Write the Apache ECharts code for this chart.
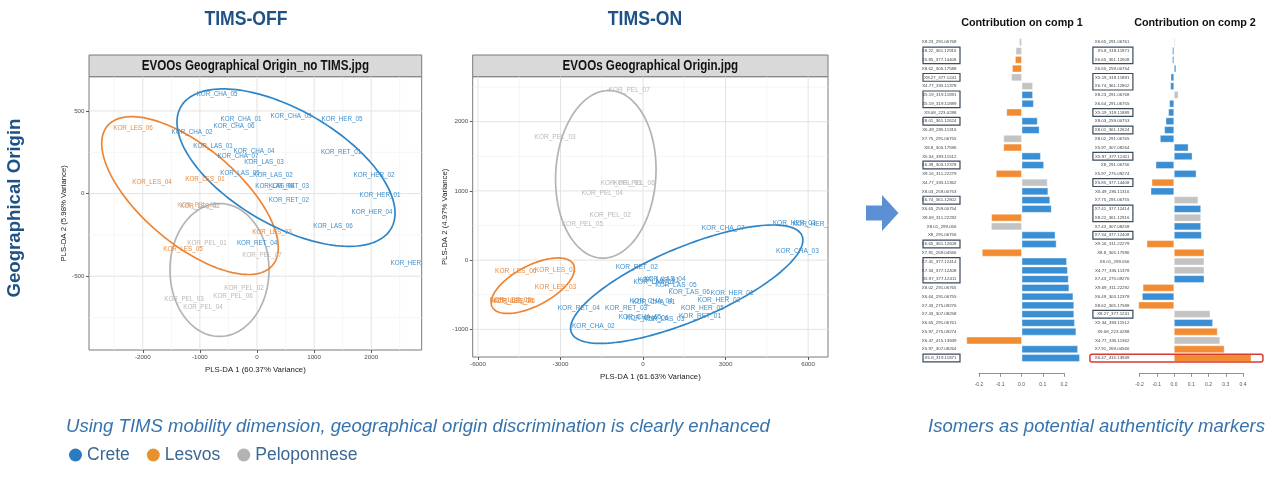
<!DOCTYPE html>
<html><head><meta charset="utf-8">
<script src="https://cdn.jsdelivr.net/npm/echarts@6/dist/echarts.min.js"></script>
<style>html,body{margin:0;padding:0;background:#fff}#c{width:1271px;height:488px}</style>
</head><body><div id="c"></div>
<script>
// ---------- data ----------
const groupNames = ['Crete', 'Lesvos', 'Peloponnese'];

// TIMS-OFF panel
const offCreteNames = ['KOR_CHA_05','KOR_CHA_01','KOR_CHA_06','KOR_CHA_03','KOR_HER_05','KOR_CHA_02','KOR_LAS_01','KOR_CHA_04','KOR_CHA_07','KOR_LAS_03','KOR_RET_01','KOR_LAS_05','KOR_LAS_02','KOR_HER_02','KOR_LAS_04','KOR_RET_03','KOR_HER_01','KOR_RET_02','KOR_HER_04','KOR_LAS_06','KOR_RET_04','KOR_HER_03'];
const offCreteX = [-700,-280,-403,595,1489,-1138,-770,-53,-333,123,1471,-298,280,2049,315,560,2154,560,2014,1331,0,2697];
const offCreteY = [602,451,409,470,451,373,289,259,223,187,247,120,108,108,42,42,-12,-42,-114,-199,-301,-421];
const offLesvosNames = ['KOR_LES_06','KOR_LES_04','KOR_LES_01','KOR_LES_02','KOR_LES_03','KOR_LES_05'];
const offLesvosX = [-2172,-1839,-911,-998,263,-1296];
const offLesvosY = [397,66,84,-76,-235,-337];
const offPelNames = ['KOR_PEL_05','KOR_PEL_01','KOR_PEL_07','KOR_PEL_02','KOR_PEL_06','KOR_PEL_03','KOR_PEL_04'];
const offPelX = [-1050,-876,88,-228,-420,-1278,-946];
const offPelY = [-70,-301,-373,-572,-620,-638,-686];
// ellipses: centre x, centre y, semi-axis A (dx, dy), semi-axis B (dx, dy)
const offCreteEllipse = [508, 157, 1840, -369, -510, -301];
const offLesvosEllipse = [-1173, -12, 1445, -422, -550, -223];
const offPelEllipse = [-657, -462, 0, 402, 867, 0];
const offXTicks = [-2000, -1000, 0, 1000, 2000];
const offXMinor = [-2500, -1500, -500, 500, 1500, 2500];
const offYTicks = [-500, 0, 500];
const offYMinor = [-750, -250, 250];

// TIMS-ON panel
const onCreteNames = ['KOR_CHA_07','KOR_HER_03','KOR_HER_04','KOR_CHA_03','KOR_RET_02','KOR_LAS_04','KOR_LAS_01','KOR_LAS_02','KOR_LAS_05','KOR_LAS_06','KOR_HER_01','KOR_HER_02','KOR_CHA_04','KOR_CHA_01','KOR_RET_04','KOR_RET_03','KOR_HER_05','KOR_RET_01','KOR_CHA_05','KOR_CHA_06','KOR_LAS_03','KOR_CHA_02'];
const onCreteX = [2916,5493,6216,5614,-229,795,560,410,1193,1675,3241,2759,300,385,-2337,-614,2156,2072,-108,150,747,-1807];
const onCreteY = [459,532,522,130,-106,-275,-290,-314,-362,-459,-473,-580,-590,-604,-700,-691,-700,-807,-821,-840,-860,-956];
const onLesvosNames = ['KOR_LES_06','KOR_LES_01','KOR_LES_03','KOR_LES_02','KOR_LES_04','KOR_LES_05'];
const onLesvosX = [-4626,-3180,-3180,-4820,-4740,-4680];
const onLesvosY = [-160,-145,-391,-585,-600,-592];
const onPelNames = ['KOR_PEL_07','KOR_PEL_03','KOR_PEL_01','KOR_PEL_06','KOR_PEL_04','KOR_PEL_02','KOR_PEL_05'];
const onPelX = [-505,-3198,-795,-325,-1482,-1193,-2204];
const onPelY = [2450,1783,1116,1116,966,652,517];
const onCreteEllipse = [1588, -348, 4191, 700, 509, -492];
const onLesvosEllipse = [-4007, -370, 1476, 307, 332, -258];
const onPelEllipse = [-1354, 1240, 108, 1211, 1823, 0];
const onXTicks = [-6000, -3000, 0, 3000, 6000];
const onXMinor = [-4500, -1500, 1500, 4500];
const onYTicks = [-1000, 0, 1000, 2000];
const onYMinor = [-500, 500, 1500, 2500];

// Contribution on comp 1
const comp1Labels = ['X8.23_291.06768','X8.22_361.12916','X5.85_377.14408','X8.62_305.17588','X8.27_377.1241','X4.77_335.11378','X5.19_319.11891','X5.19_319.11889','X9.08_223.0288','X8.01_361.12624','X6.49_285.11316','X7.75_291.06755','X8.8_305.17596','X5.34_393.11512','X6.49_303.12378','X9.16_311.22279','X4.77_335.11362','X8.03_259.00753','X6.74_361.12802','X6.65_259.00754','X9.69_311.22292','X8.01_299.056','X8_291.06756','X6.65_361.12608','X7.91_269.04566','X7.41_377.12414','X7.34_377.12408','X5.97_377.12411','X8.02_291.06765','X6.64_291.06755','X7.43_275.09276','X7.43_307.08258','X6.65_291.06761','X5.97_275.09274','X6.47_415.13949','X5.97_307.08264','X5.8_319.11871'];
const comp1Values = [-0.012,-0.028,-0.031,-0.045,-0.049,0.052,0.052,0.056,-0.072,0.074,0.083,-0.086,-0.086,0.089,0.104,-0.121,0.121,0.124,0.133,0.140,-0.143,-0.144,0.158,0.163,-0.187,0.212,0.216,0.220,0.223,0.242,0.246,0.246,0.249,0.256,-0.260,0.264,0.273];
const comp1Groups = ['P','P','L','L','P','P','C','C','L','C','C','P','L','C','C','L','P','C','C','C','L','P','C','C','L','C','C','C','C','C','C','C','C','C','L','C','C'];
const comp1Boxes = [[2,3],[5,5],[7,8],[10,10],[15,15],[19,19],[24,24],[26,28],[37,37]];
const comp1Ticks = [-0.2, 0.2];

// Contribution on comp 2
const comp2Labels = ['X6.65_291.06761','X5.8_319.11871','X6.65_361.12608','X6.65_259.00754','X5.19_319.11891','X6.74_361.12802','X8.23_291.06768','X6.64_291.06755','X5.19_319.11889','X8.03_259.00753','X8.01_361.12624','X8.02_291.06765','X5.97_307.08264','X5.97_377.12411','X8_291.06756','X5.97_275.09274','X5.85_377.14408','X6.49_285.11316','X7.75_291.06755','X7.41_377.12414','X8.22_361.12916','X7.43_307.08258','X7.34_377.12408','X9.16_311.22279','X8.8_305.17596','X8.01_299.056','X4.77_335.11378','X7.43_275.09276','X9.69_311.22292','X6.49_303.12378','X8.62_305.17588','X8.27_377.1241','X5.34_393.11512','X9.08_223.0288','X4.77_335.11362','X7.91_269.04566','X6.47_415.13949'];
const comp2Values = [0.005,-0.010,-0.010,0.012,-0.019,-0.021,0.025,-0.027,-0.033,-0.048,-0.056,-0.081,0.083,0.106,-0.106,0.129,-0.129,-0.135,0.140,0.156,0.156,0.156,0.160,-0.158,0.175,0.175,0.175,0.175,-0.181,-0.185,-0.206,0.210,0.225,0.252,0.267,0.292,0.448];
const comp2Groups = ['C','C','C','C','C','C','P','C','C','C','C','C','C','C','C','C','L','C','P','C','P','C','C','L','L','P','P','C','L','C','L','P','C','L','P','L','L'];
const comp2Boxes = [[2,3],[5,6],[9,9],[11,11],[14,14],[17,17],[20,21],[23,23],[32,32]];
const comp2Highlight = [[37,37]];
const comp2Ticks = [-0.2, 0.4];

// ---------- styles ----------
const FONT = '"Liberation Sans", Arial, sans-serif';
const lineColor = {Crete: '#2e86c9', Lesvos: '#ee8534', Peloponnese: '#b3b3b3'};
const textColor = {Crete: '#3f8fcb', Lesvos: '#ea8a3e', Peloponnese: '#b9b9b9'};
const barColor = {C: '#3a8ed3', L: '#f28c33', P: '#c3c3c3'};
const legendColor = ['#2b7bc0', '#e8922f', '#b3b3b3'];

const chart = echarts.init(document.getElementById('c'), null, {renderer: 'canvas'});

function ellipseRender(params, api) {
  const cx = api.value(0), cy = api.value(1), ax = api.value(2), ay = api.value(3), bx = api.value(4), by = api.value(5);
  const pts = [];
  for (let k = 0; k <= 160; k++) {
    const t = k / 160 * 2 * Math.PI;
    pts.push(api.coord([cx + ax * Math.cos(t) + bx * Math.sin(t), cy + ay * Math.cos(t) + by * Math.sin(t)]));
  }
  const cs = params.coordSys;
  return {type: 'group', clipPath: {type: 'rect', shape: {x: cs.x, y: cs.y, width: cs.width, height: cs.height}},
    children: [{type: 'polyline', shape: {points: pts}, style: {stroke: api.visual('color'), fill: null, lineWidth: 1.7}}]};
}
function labelRender(names, color, size) {
  return function (params, api) {
    const cs = params.coordSys;
    const p = api.coord([api.value(0), api.value(1)]);
    return {type: 'group', clipPath: {type: 'rect', shape: {x: cs.x, y: cs.y, width: cs.width, height: cs.height}},
      children: [{type: 'text', x: p[0], y: p[1], style: {text: names[params.dataIndex], fill: color,
        font: size + 'px ' + FONT, align: 'center', verticalAlign: 'middle', textAlign: 'center', textVerticalAlign: 'middle'}}]};
  };
}
function gridLineRender(params, api) {
  const cs = params.coordSys;
  const v = api.value(0), o = api.value(1), m = api.value(2);
  const st = {stroke: m ? '#e3e3e3' : '#f1f1f1', lineWidth: m ? 1 : 0.7};
  if (o === 0) {
    const x = api.coord([v, 0])[0];
    return {type: 'line', shape: {x1: x, y1: cs.y, x2: x, y2: cs.y + cs.height}, style: st};
  }
  const y = api.coord([0, v])[1];
  return {type: 'line', shape: {x1: cs.x, y1: y, x2: cs.x + cs.width, y2: y}, style: st};
}
function boxRender(dx, w, stroke, lw, r) {
  return function (params, api) {
    const cs = params.coordSys;
    const s = api.value(1), e = api.value(2);
    const band = api.size([0, 1])[1];
    const y1 = api.coord([0, s])[1] - band / 2 + 0.5;
    const y2 = api.coord([0, e])[1] + band / 2 - 0.5;
    return {type: 'rect', shape: {x: cs.x + dx, y: y1, width: w, height: y2 - y1, r: r}, style: {stroke: stroke, fill: null, lineWidth: lw}};
  };
}
function gridData(xMaj, xMin, yMaj, yMin) {
  return [].concat(xMin.map(v => [v, 0, 0]), yMin.map(v => [v, 1, 0]), xMaj.map(v => [v, 0, 1]), yMaj.map(v => [v, 1, 1]));
}
function zip(xs, ys) { return xs.map((x, i) => [x, ys[i]]); }

function scatterAxis(gridIndex, min, max, ticks, name, gap) {
  return {type: 'value', gridIndex, min, max, name, nameLocation: 'middle', nameGap: gap,
    nameTextStyle: {fontSize: 7.8, color: '#1a1a1a', fontFamily: FONT},
    axisLine: {show: false, onZero: false}, splitLine: {show: false},
    axisTick: {show: true, customValues: ticks, length: 3, lineStyle: {color: '#333', width: 0.8}},
    axisLabel: {customValues: ticks, fontSize: 6.2, color: '#4d4d4d', margin: 4.5, formatter: v => String(v)}};
}

const series = [];
function addPanel(axisIdx, gd, groups) {
  series.push({type: 'custom', xAxisIndex: axisIdx, yAxisIndex: axisIdx, renderItem: gridLineRender, data: gd, silent: true, z: 1});
  groups.forEach(g => {
    series.push({type: 'custom', name: g.name, xAxisIndex: axisIdx, yAxisIndex: axisIdx, renderItem: ellipseRender,
      itemStyle: {color: lineColor[g.name]}, data: [g.ellipse], silent: true, z: 2});
  });
  groups.forEach(g => {
    series.push({type: 'custom', name: g.name, xAxisIndex: axisIdx, yAxisIndex: axisIdx,
      renderItem: labelRender(g.names, textColor[g.name], g.size),
      itemStyle: {color: lineColor[g.name]}, data: zip(g.x, g.y), silent: true, z: 3});
  });
}
addPanel(0, gridData(offXTicks, offXMinor, offYTicks, offYMinor), [
  {name: 'Peloponnese', names: offPelNames, x: offPelX, y: offPelY, ellipse: offPelEllipse, size: 6.3},
  {name: 'Lesvos', names: offLesvosNames, x: offLesvosX, y: offLesvosY, ellipse: offLesvosEllipse, size: 6.3},
  {name: 'Crete', names: offCreteNames, x: offCreteX, y: offCreteY, ellipse: offCreteEllipse, size: 6.3}
]);
addPanel(1, gridData(onXTicks, onXMinor, onYTicks, onYMinor), [
  {name: 'Peloponnese', names: onPelNames, x: onPelX, y: onPelY, ellipse: onPelEllipse, size: 6.6},
  {name: 'Lesvos', names: onLesvosNames, x: onLesvosX, y: onLesvosY, ellipse: onLesvosEllipse, size: 6.6},
  {name: 'Crete', names: onCreteNames, x: onCreteX, y: onCreteY, ellipse: onCreteEllipse, size: 6.6}
]);

series.push({type: 'bar', xAxisIndex: 2, yAxisIndex: 2, data: comp1Values, barCategoryGap: '16%', silent: true,
  itemStyle: {color: p => barColor[comp1Groups[p.dataIndex]], borderColor: 'rgba(255,255,255,0.75)', borderWidth: 0.5}});
series.push({type: 'custom', xAxisIndex: 2, yAxisIndex: 2, silent: true, z: 4,
  renderItem: boxRender(-35, 37, '#3b4a5c', 1.2, 0), data: comp1Boxes.map(b => [0, b[0] - 1, b[1] - 1])});
series.push({type: 'bar', xAxisIndex: 4, yAxisIndex: 4, data: comp2Values, barCategoryGap: '16%', silent: true,
  itemStyle: {color: p => barColor[comp2Groups[p.dataIndex]], borderColor: 'rgba(255,255,255,0.75)', borderWidth: 0.5}});
series.push({type: 'custom', xAxisIndex: 4, yAxisIndex: 4, silent: true, z: 4,
  renderItem: boxRender(-38, 40, '#3b4a5c', 1.2, 0), data: comp2Boxes.map(b => [0, b[0] - 1, b[1] - 1])});
series.push({type: 'custom', xAxisIndex: 4, yAxisIndex: 4, silent: true, z: 4,
  renderItem: boxRender(-41, 173, '#d93a32', 1.5, 2), data: comp2Highlight.map(b => [0, b[0] - 1, b[1] - 1])});

const barCatAxis = (gi, labels) => ({type: 'category', gridIndex: gi, data: labels, inverse: true,
  axisLine: {show: false}, axisTick: {show: false}, splitLine: {show: false},
  axisLabel: {interval: 0, fontSize: 4.4, color: '#444', margin: 1.5}});
const barValAxis = (gi, min, max) => ({type: 'value', gridIndex: gi, min, max, show: false});
const barTickAxis = (gi, ticks) => ({type: 'value', gridIndex: gi, min: ticks[0], max: ticks[1], interval: 0.1,
  axisLine: {show: true, onZero: false, lineStyle: {color: '#777', width: 0.8}},
  axisTick: {show: true, length: 3.5, lineStyle: {color: '#777', width: 0.8}},
  splitLine: {show: false},
  axisLabel: {fontSize: 5, color: '#555', margin: 9, formatter: v => v.toFixed(1)}});

function txt(x, y, text, font, fill, extra) {
  return Object.assign({type: 'text', x: x, y: y, style: {text: text, fill: fill, font: font,
    align: 'center', verticalAlign: 'middle', textAlign: 'center', textVerticalAlign: 'middle'}}, extra || {});
}
function ltxt(x, y, text, font, fill, extra) {
  return Object.assign({type: 'text', x: x, y: y, style: {text: text, fill: fill, font: font,
    align: 'left', verticalAlign: 'middle', textAlign: 'left', textVerticalAlign: 'middle'}}, extra || {});
}

const option = {
  animation: false,
  backgroundColor: '#ffffff',
  textStyle: {fontFamily: FONT},
  grid: [
    {left: 89, top: 76.7, width: 332.7, height: 273.3, show: true, borderColor: '#7a7a7a', borderWidth: 1, backgroundColor: '#fff'},
    {left: 472.7, top: 76.7, width: 355.3, height: 280.3, show: true, borderColor: '#7a7a7a', borderWidth: 1, backgroundColor: '#fff'},
    {left: 958, top: 37.9, width: 127.5, height: 324.5},
    {left: 979, top: 372.3, width: 85, height: 1},
    {left: 1130.9, top: 37.9, width: 129.4, height: 324.5},
    {left: 1139.5, top: 372.3, width: 103.5, height: 1}
  ],
  xAxis: [
    scatterAxis(0, -2942, 2884, offXTicks, 'PLS-DA 1 (60.37% Variance)', 15),
    scatterAxis(1, -6192, 6723, onXTicks, 'PLS-DA 1 (61.63% Variance)', 15),
    barValAxis(2, -0.3, 0.3),
    barTickAxis(3, comp1Ticks),
    barValAxis(4, -0.25, 0.5),
    barTickAxis(5, comp2Ticks)
  ],
  yAxis: [
    scatterAxis(0, -946, 707, offYTicks, 'PLS-DA 2 (5.98% Variance)', 18.5),
    scatterAxis(1, -1400, 2650, onYTicks, 'PLS-DA 2 (4.97% Variance)', 21),
    barCatAxis(2, comp1Labels),
    {type: 'value', gridIndex: 3, show: false, min: 0, max: 1},
    barCatAxis(4, comp2Labels),
    {type: 'value', gridIndex: 5, show: false, min: 0, max: 1}
  ],
  legend: {left: 64, top: 441, icon: 'circle', itemWidth: 13, itemHeight: 13, itemGap: 17, selectedMode: false,
    data: groupNames.map((n, i) => ({name: n, itemStyle: {color: legendColor[i]}})),
    textStyle: {fontSize: 17.5, color: '#3b6894', fontFamily: FONT}},
  graphic: [
    txt(246, 19, 'TIMS-OFF', 'bold 20px ' + FONT, '#1e5186', {scaleX: 0.88}),
    txt(645, 19, 'TIMS-ON', 'bold 20px ' + FONT, '#1e5186', {scaleX: 0.88}),
    txt(15, 208, 'Geographical Origin', 'bold 19px ' + FONT, '#1e5186', {rotation: Math.PI / 2, scaleX: 0.98}),
    {type: 'rect', shape: {x: 89, y: 55, width: 332.7, height: 21.7}, style: {fill: '#d9d9d9', stroke: '#7a7a7a', lineWidth: 1}},
    txt(255.4, 66, 'EVOOs Geographical Origin_no TIMS.jpg', 'bold 14px ' + FONT, '#111', {scaleX: 0.83}),
    {type: 'rect', shape: {x: 472.7, y: 55, width: 355.3, height: 21.7}, style: {fill: '#d9d9d9', stroke: '#7a7a7a', lineWidth: 1}},
    txt(650.4, 66, 'EVOOs Geographical Origin.jpg', 'bold 14px ' + FONT, '#111', {scaleX: 0.83}),
    txt(1022, 23, 'Contribution on comp 1', 'bold 10.8px ' + FONT, '#111'),
    txt(1195, 23, 'Contribution on comp 2', 'bold 10.8px ' + FONT, '#111'),
    {type: 'polygon', shape: {points: [[866, 205.5], [882, 205.5], [882, 195], [898.5, 213], [882, 231], [882, 220.5], [866, 220.5]]}, style: {fill: '#5b90d5'}},
    ltxt(66, 427, 'Using TIMS mobility dimension, geographical origin discrimination is clearly enhanced', 'italic 18px ' + FONT, '#3673ad', {scaleX: 1.03}),
    ltxt(928, 427, 'Isomers as potential authenticity markers', 'italic 18px ' + FONT, '#3673ad', {scaleX: 1.03})
  ],
  series: series
};
chart.setOption(option);
</script>
</body></html>
